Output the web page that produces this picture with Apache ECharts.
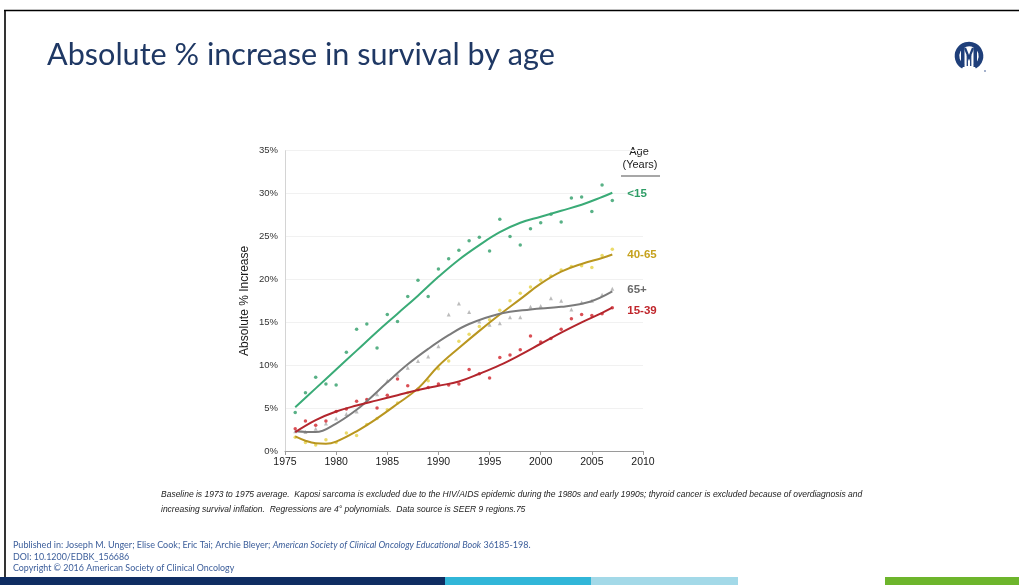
<!DOCTYPE html>
<html>
<head>
<meta charset="utf-8">
<script src="https://cdn.jsdelivr.net/npm/echarts@6/dist/echarts.min.js"></script>
<style>
  html, body { margin: 0; padding: 0; background: #fff; }
  #chart { width: 1019px; height: 585px; }
</style>
</head>
<body>
<div id="chart"></div>
<script>
// Diagnosis years (x of every observed point)
const years = [1976, 1977, 1978, 1979, 1980, 1981, 1982, 1983, 1984, 1985, 1986,
  1987, 1988, 1989, 1990, 1991, 1992, 1993, 1994, 1995, 1996, 1997, 1998, 1999,
  2000, 2001, 2002, 2003, 2004, 2005, 2006, 2007];

// Observed absolute % increase in survival, by age group
const under15 = [4.5, 6.8, 8.6, 7.8, 7.7, 11.5, 14.2, 14.8, 12.0, 15.9, 15.1,
  18.0, 19.9, 18.0, 21.2, 22.4, 23.4, 24.5, 24.9, 23.3, 27.0, 25.0, 24.0, 25.9,
  26.6, 27.6, 26.7, 29.5, 29.6, 27.9, 31.0, 29.2];
const age40to65 = [1.6, 1.0, 0.7, 1.3, 1.0, 2.1, 1.8, 3.1, 3.8, 4.8, 5.6,
  6.8, 7.1, 8.2, 9.6, 10.5, 12.8, 13.6, 14.5, 15.3, 16.4, 17.5, 18.4, 19.1,
  19.9, 20.4, 21.1, 21.5, 21.6, 21.4, 22.8, 23.5];
const age65plus = [2.3, 2.2, 2.6, 3.2, 3.8, 4.3, 4.6, 5.9, 6.6, 8.2, 8.9,
  9.7, 10.5, 11.0, 12.2, 15.9, 17.2, 16.2, 15.1, 14.7, 14.9, 15.6, 15.6, 16.8,
  16.9, 17.8, 17.5, 16.5, 17.3, 17.5, 18.2, 18.9];
const age15to39 = [2.6, 3.5, 3.0, 3.5, 4.6, 4.9, 5.8, 6.0, 5.0, 6.5, 8.4,
  7.6, 7.2, 7.4, 7.8, 7.7, 7.8, 9.5, 9.0, 8.5, 10.9, 11.2, 11.8, 13.4,
  12.7, 13.1, 14.2, 15.4, 15.9, 15.8, 16.0, 16.7];

// Fitted regression curves, [year, value]
const fitUnder15 = [[1976, 5.1], [1978, 7.3], [1980, 9.5], [1982, 11.7], [1984, 13.9],
  [1986, 16.0], [1988, 18.1], [1990, 20.3], [1992, 22.3], [1994, 24.0], [1996, 25.5],
  [1998, 26.6], [2000, 27.3], [2002, 28.0], [2004, 28.7], [2006, 29.6], [2007, 30.1]];
const fit40to65 = [[1976, 1.7], [1977, 1.2], [1978, 0.9], [1979, 0.85], [1980, 1.1],
  [1982, 2.3], [1984, 3.8], [1986, 5.5], [1988, 7.3], [1990, 9.9], [1992, 12.0],
  [1994, 14.0], [1996, 15.9], [1998, 17.7], [2000, 19.5], [2002, 20.9], [2004, 21.8],
  [2006, 22.5], [2007, 22.9]];
const fit65plus = [[1976, 2.3], [1978, 2.2], [1980, 3.2], [1982, 4.8], [1983, 5.8],
  [1985, 8.0], [1987, 10.1], [1989, 11.9], [1991, 13.5], [1993, 14.8], [1996, 16.0],
  [1999, 16.5], [2002, 16.8], [2004.8, 17.4], [2007, 18.6]];
const fit15to39 = [[1976, 2.2], [1978, 3.6], [1980, 4.6], [1982, 5.3], [1984, 5.9],
  [1986, 6.5], [1988, 7.1], [1990, 7.6], [1992, 8.1], [1994, 9.0], [1996, 10.0],
  [1998, 11.2], [2000, 12.5], [2002, 13.8], [2004, 15.0], [2006, 16.1], [2007, 16.7]];

const groupNames = ['<15', '40-65', '65+', '15-39'];

const chart = echarts.init(document.getElementById('chart'), null, { renderer: 'canvas' });

function pts(vals) { return years.map((y, i) => [y, vals[i]]); }

function fitSeries(name, data, color, labelColor, dy) {
  return {
    type: 'line', name: name, data: data, smooth: 0.4, showSymbol: false,
    lineStyle: { color: color, width: 2 }, z: 3,
    endLabel: {
      show: true, formatter: name, color: labelColor, fontFamily: 'Liberation Sans, Arial',
      fontWeight: 'bold', fontSize: 11.5, distance: 15, offset: [0, dy]
    }
  };
}
function pointSeries(name, data, color, symbol, size) {
  return {
    type: 'scatter', name: name + ' observed', data: pts(data), symbol: symbol,
    symbolSize: size, itemStyle: { color: color }, z: 2
  };
}

const footerColor = '#3b5d9a';
const logoColor = '#1f3f7a';

chart.setOption({
  animation: false,
  backgroundColor: '#ffffff',
  grid: { left: 285, right: 376, top: 150.7, bottom: 134 },
  xAxis: {
    type: 'value', min: 1975, max: 2010, interval: 5,
    axisLine: { show: true, lineStyle: { color: '#9a9a9a', width: 1 } },
    axisTick: { show: true, length: 4, lineStyle: { color: '#9a9a9a' } },
    axisLabel: { color: '#1a1a1a', fontSize: 10.5, fontFamily: 'Liberation Sans, Arial', margin: 6,
      formatter: v => String(v) },
    splitLine: { show: false }
  },
  yAxis: {
    type: 'value', min: 0, max: 35, interval: 5,
    name: 'Absolute % Increase', nameLocation: 'middle', nameGap: 34,
    nameTextStyle: { color: '#1a1a1a', fontSize: 12, fontFamily: 'Liberation Sans, Arial' },
    axisLine: { show: true, lineStyle: { color: '#d4d4d4' } },
    axisTick: { show: false },
    axisLabel: { color: '#333', fontSize: 9.5, fontFamily: 'Liberation Sans, Arial', margin: 7,
      formatter: v => v + '%' },
    splitLine: { show: true, lineStyle: { color: '#f1f1f1' } }
  },
  series: [
    pointSeries(groupNames[0], under15, '#2e9e68', 'circle', 3.5),
    pointSeries(groupNames[1], age40to65, '#e6d244', 'circle', 3.5),
    pointSeries(groupNames[2], age65plus, '#ababab', 'triangle', 4),
    pointSeries(groupNames[3], age15to39, '#d1232b', 'circle', 3.5),
    fitSeries(groupNames[0], fitUnder15, '#3aab77', '#2e9d66', 1),
    fitSeries(groupNames[1], fit40to65, '#b99620', '#c6a21e', 0),
    fitSeries(groupNames[2], fit65plus, '#7b7b7b', '#6a6a6a', -1.5),
    fitSeries(groupNames[3], fit15to39, '#b3262d', '#c0262c', 3)
  ],
  graphic: [
    // slide frame
    { type: 'line', shape: { x1: 4, y1: 10.5, x2: 1019, y2: 10.5 }, style: { stroke: '#000', lineWidth: 1.6 } },
    { type: 'line', shape: { x1: 5, y1: 10, x2: 5, y2: 585 }, style: { stroke: '#000', lineWidth: 1.6 } },
    // slide title
    { type: 'text', style: { x: 47, y: 55, text: 'Absolute % increase in survival by age',
      font: '30.6px Lato, "Open Sans", sans-serif', fill: '#1f3864', textVerticalAlign: 'middle' } },
    // logo: open ring with an M inside
    { type: 'arc', shape: { cx: 969, cy: 56, r: 12, startAngle: Math.PI * 0.66, endAngle: Math.PI * 2.34, clockwise: true },
      style: { stroke: logoColor, lineWidth: 4.6, fill: null } },
    { type: 'polygon', shape: { points: [[961, 49], [964.5, 46], [964.5, 67], [961, 67]] }, style: { fill: logoColor } },
    { type: 'polygon', shape: { points: [[977, 49], [973.5, 46], [973.5, 67], [977, 67]] }, style: { fill: logoColor } },
    { type: 'polyline', shape: { points: [[965, 48], [969, 58], [973, 48]] },
      style: { stroke: logoColor, lineWidth: 2.2, fill: null } },
    { type: 'line', shape: { x1: 967.3, y1: 55, x2: 967.3, y2: 66 }, style: { stroke: logoColor, lineWidth: 1.3 } },
    { type: 'line', shape: { x1: 970.7, y1: 55, x2: 970.7, y2: 66 }, style: { stroke: logoColor, lineWidth: 1.3 } },
    { type: 'circle', shape: { cx: 985, cy: 71, r: 0.9 }, style: { fill: '#7a8db5' } },
    // legend header
    { type: 'text', style: { x: 639, y: 152, text: 'Age', font: '11px Liberation Sans, Arial', fill: '#222',
      textAlign: 'center', textVerticalAlign: 'middle' } },
    { type: 'text', style: { x: 640, y: 165, text: '(Years)', font: '11px Liberation Sans, Arial', fill: '#222',
      textAlign: 'center', textVerticalAlign: 'middle' } },
    { type: 'line', shape: { x1: 621, y1: 176, x2: 660, y2: 176 }, style: { stroke: '#8a8a8a', lineWidth: 1.5 } },
    // caption
    { type: 'text', style: { x: 161, y: 495, textVerticalAlign: 'middle',
      text: 'Baseline is 1973 to 1975 average.  Kaposi sarcoma is excluded due to the HIV/AIDS epidemic during the 1980s and early 1990s; thyroid cancer is excluded because of overdiagnosis and',
      font: 'italic 8.5px Liberation Sans, Arial', fill: '#222' } },
    { type: 'text', style: { x: 161, y: 510, textVerticalAlign: 'middle',
      text: 'increasing survival inflation.  Regressions are 4° polynomials.  Data source is SEER 9 regions.75',
      font: 'italic 8.5px Liberation Sans, Arial', fill: '#222' } },
    // citation footer
    { type: 'text', style: { x: 13, y: 545, textVerticalAlign: 'middle',
      text: '{n|Published in: Joseph M. Unger; Elise Cook; Eric Tai; Archie Bleyer; }{i|American Society of Clinical Oncology Educational Book}{n| 36185-198.}',
      rich: {
        n: { fontFamily: 'Lato', fontSize: 9, fill: footerColor, color: footerColor },
        i: { fontFamily: 'Lato', fontSize: 9, fontStyle: 'italic', fill: footerColor, color: footerColor }
      } } },
    { type: 'text', style: { x: 13, y: 557, textVerticalAlign: 'middle', text: 'DOI: 10.1200/EDBK_156686',
      font: '8.9px Lato', fill: footerColor } },
    { type: 'text', style: { x: 13, y: 568, textVerticalAlign: 'middle', text: 'Copyright © 2016 American Society of Clinical Oncology',
      font: '8.9px Lato', fill: footerColor } },
    // bottom colour band
    { type: 'rect', shape: { x: 0, y: 577, width: 445, height: 8 }, style: { fill: '#0f2d62' } },
    { type: 'rect', shape: { x: 445, y: 577, width: 146, height: 8 }, style: { fill: '#31b6d8' } },
    { type: 'rect', shape: { x: 591, y: 577, width: 147, height: 8 }, style: { fill: '#a3d9e8' } },
    { type: 'rect', shape: { x: 885, y: 577, width: 134, height: 8 }, style: { fill: '#6db52c' } }
  ]
});
</script>
</body>
</html>
